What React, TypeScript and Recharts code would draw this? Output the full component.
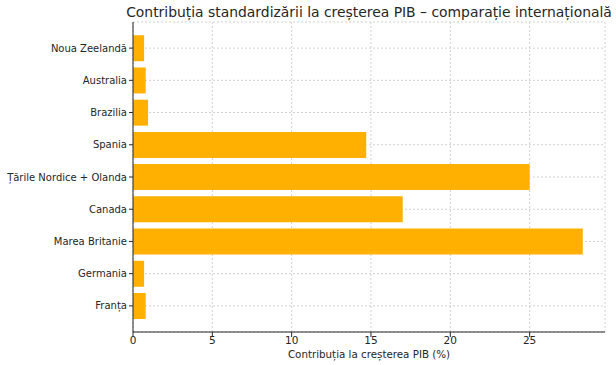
import { BarChart, Bar, XAxis, YAxis, CartesianGrid } from "recharts";

const countries = [
  "Noua Zeelandă",
  "Australia",
  "Brazilia",
  "Spania",
  "Țările Nordice + Olanda",
  "Canada",
  "Marea Britanie",
  "Germania",
  "Franța",
];
const contributions = [0.7, 0.8, 0.95, 14.7, 25, 17, 28.35, 0.7, 0.8];
const xTicks = [0, 5, 10, 15, 20, 25];

const title = "Contribuția standardizării la creșterea PIB – comparație internațională";
const xLabel = "Contribuția la creșterea PIB (%)";

const data = countries.map((name, i) => ({ name, value: contributions[i] }));

const font = "'DejaVu Sans', sans-serif";
const ink = "#262626";

export default function App() {
  return (
    <div style={{ position: "absolute", left: 0, top: 0, width: 616, height: 365, overflow: "hidden", background: "#fff", fontFamily: font }}>
      <div
        style={{
          position: "absolute",
          left: 369,
          top: 3,
          transform: "translateX(-50%)",
          whiteSpace: "nowrap",
          fontSize: 13.9,
          lineHeight: "18px",
          color: ink,
        }}
      >
        {title}
      </div>
      <BarChart
        width={616}
        height={365}
        data={data}
        layout="vertical"
        margin={{ top: 22, right: 11, bottom: 0, left: 0 }}
        barCategoryGap="10%"
      >
        <CartesianGrid stroke="#d0d0d0" strokeDasharray="2 2" />
        <XAxis
          type="number"
          domain={[0, 29.75]}
          ticks={xTicks}
          allowDataOverflow
          tick={{ fontSize: 10.5, fill: ink, fontFamily: font, dy: -2 }}
          tickSize={5}
          stroke={ink}
          height={33}
          label={{ value: xLabel, position: "insideBottom", offset: 7, fontSize: 10.3, fill: ink, fontFamily: font }}
        />
        <YAxis
          type="category"
          dataKey="name"
          width={133}
          padding={{ top: 10, bottom: 10 }}
          tick={{ fontSize: 10, fill: ink, fontFamily: font, width: 200 }}
          tickSize={4}
          stroke={ink}
          interval={0}
        />
        <Bar dataKey="value" fill="#FFB000" isAnimationActive={false} />
      </BarChart>
    </div>
  );
}
